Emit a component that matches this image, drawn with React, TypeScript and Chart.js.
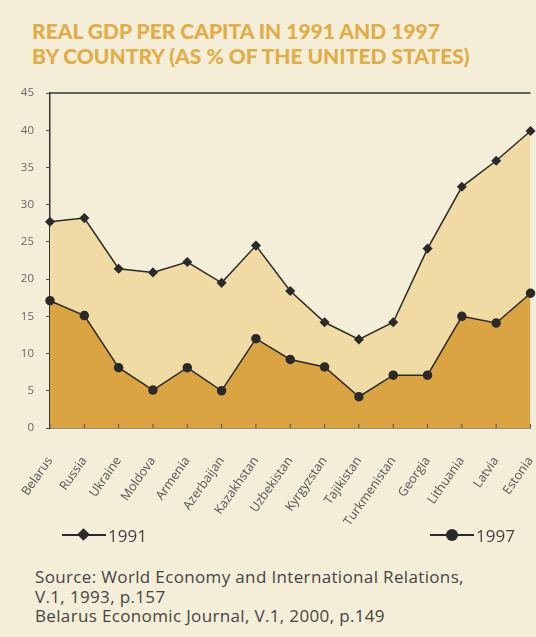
import React, { useEffect, useRef } from "react";
import { Chart, registerables } from "chart.js";

Chart.register(...registerables);

const countries = [
  "Belarus", "Russia", "Ukraine", "Moldova", "Armenia", "Azerbaijan", "Kazakhstan",
  "Uzbekistan", "Kyrgyzstan", "Tajikistan", "Turkmenistan", "Georgia", "Lithuania", "Latvia", "Estonia",
];
const gdp1991 = [27.7, 28.2, 21.4, 20.9, 22.3, 19.5, 24.5, 18.4, 14.2, 11.9, 14.2, 24.1, 32.4, 35.9, 39.9];
const gdp1997 = [17.1, 15.1, 8.1, 5.1, 8.1, 5.0, 12.0, 9.2, 8.2, 4.2, 7.1, 7.1, 15.0, 14.1, 18.1];
const yTicks = [0, 5, 10, 15, 20, 25, 30, 35, 40, 45];

const BG = "#f4eed8";
const DARK = "#2a2a2a";
const FONT = "'Open Sans', 'DejaVu Sans', sans-serif";

const framePlugin = {
  id: "frame",
  afterDatasetsDraw(chart: any) {
    const { ctx, chartArea } = chart;
    const x = chart.scales.x;
    ctx.save();
    ctx.strokeStyle = "#333";
    ctx.lineWidth = 1.5;
    ctx.beginPath();
    ctx.moveTo(chartArea.left, chartArea.top);
    ctx.lineTo(chartArea.right, chartArea.top);
    ctx.stroke();
    ctx.lineWidth = 1;
    ctx.strokeStyle = "#555";
    for (let i = 0; i < x.ticks.length; i++) {
      const px = x.getPixelForTick(i);
      ctx.beginPath();
      ctx.moveTo(px, chartArea.bottom);
      ctx.lineTo(px, chartArea.bottom - 4);
      ctx.stroke();
    }
    ctx.restore();
  },
};

function ChartCanvas() {
  const ref = useRef<HTMLCanvasElement>(null);
  useEffect(() => {
    const chart = new Chart(ref.current as HTMLCanvasElement, {
      type: "line",
      data: {
        labels: countries,
        datasets: [
          {
            label: "1997",
            data: gdp1997,
            borderColor: DARK,
            borderWidth: 1.5,
            pointStyle: "circle",
            pointRadius: 4,
            pointBackgroundColor: DARK,
            pointBorderColor: DARK,
            fill: "origin",
            backgroundColor: "#daa443",
            tension: 0,
          },
          {
            label: "1991",
            data: gdp1991,
            borderColor: DARK,
            borderWidth: 1.5,
            pointStyle: "rectRot",
            pointRadius: 4,
            pointBackgroundColor: DARK,
            pointBorderColor: DARK,
            fill: "-1",
            backgroundColor: "#f0dba4",
            tension: 0,
          },
        ],
      },
      options: {
        animation: false,
        responsive: false,
        layout: { padding: { top: 13, left: 0, right: 0, bottom: 0 } },
        plugins: { legend: { display: false }, tooltip: { enabled: false }, title: { display: false } },
        scales: {
          x: {
            offset: false,
            grid: { display: false },
            border: { display: true, color: "#333", width: 1.5 },
            ticks: {
              autoSkip: false,
              minRotation: 55,
              maxRotation: 55,
              padding: 18,
              color: "#555",
              font: { family: FONT, size: 12.5 },
            },
            afterFit: (s: any) => {
              s.height = 122;
              s.paddingLeft = 0;
              s.paddingRight = 0;
            },
          },
          y: {
            min: 0,
            max: 45,
            afterBuildTicks: (s: any) => {
              s.ticks = yTicks.map((v) => ({ value: v }));
            },
            grid: { display: true, drawOnChartArea: false, tickLength: 4, color: "#555" },
            border: { display: true, color: "#333", width: 1.5 },
            ticks: {
              padding: 12,
              color: "#666",
              font: { family: FONT, size: 11.5 },
            },
            afterFit: (s: any) => {
              s.width = 50;
              s.paddingTop = 0;
              s.paddingBottom = 0;
            },
          },
        },
      },
      plugins: [framePlugin],
    });
    return () => chart.destroy();
  }, []);
  return (
    <canvas
      ref={ref}
      width={536}
      height={470}
      style={{ position: "absolute", left: 0, top: 80, width: 536, height: 470 }}
    />
  );
}

function LegendItem({ label, marker, left }: { label: string; marker: "diamond" | "circle"; left: number }) {
  return (
    <div style={{ position: "absolute", left, top: 523, height: 24, display: "flex", alignItems: "center" }}>
      <div style={{ position: "relative", width: 44, height: 24 }}>
        <div style={{ position: "absolute", left: 0, right: 0, top: 11, height: 2, background: DARK }} />
        {marker === "diamond" ? (
          <div
            style={{
              position: "absolute",
              left: 17,
              top: 7,
              width: 9,
              height: 9,
              background: DARK,
              transform: "rotate(45deg)",
            }}
          />
        ) : (
          <div
            style={{
              position: "absolute",
              left: 16,
              top: 6,
              width: 12,
              height: 12,
              borderRadius: "50%",
              background: DARK,
            }}
          />
        )}
      </div>
      <span style={{ fontFamily: FONT, fontSize: 17, color: "#444", marginLeft: 2 }}>{label}</span>
    </div>
  );
}

export default function App() {
  return (
    <div style={{ position: "fixed", left: 0, top: 0, width: 536, height: 637, background: BG, overflow: "hidden" }}>
      <div
        style={{
          position: "absolute",
          left: 32,
          top: 18,
          fontFamily: "'Lato', 'Open Sans', sans-serif",
          fontWeight: 900,
          fontSize: 21,
          lineHeight: "25px",
          color: "#e0ad46",
          letterSpacing: 0,
        }}
      >
        <div>REAL GDP PER CAPITA IN 1991 AND 1997</div>
        <div>BY COUNTRY (AS % OF THE UNITED STATES)</div>
      </div>
      <ChartCanvas />
      <LegendItem label="1991" marker="diamond" left={62} />
      <LegendItem label="1997" marker="circle" left={430} />
      <div
        style={{
          position: "absolute",
          left: 35,
          top: 567,
          fontFamily: FONT,
          fontSize: 17,
          lineHeight: "19.5px",
          color: "#444",
          letterSpacing: 0.35,
        }}
      >
        <div>Source: World Economy and International Relations,</div>
        <div>V.1, 1993, p.157</div>
        <div>Belarus Economic Journal, V.1, 2000, p.149</div>
      </div>
    </div>
  );
}
